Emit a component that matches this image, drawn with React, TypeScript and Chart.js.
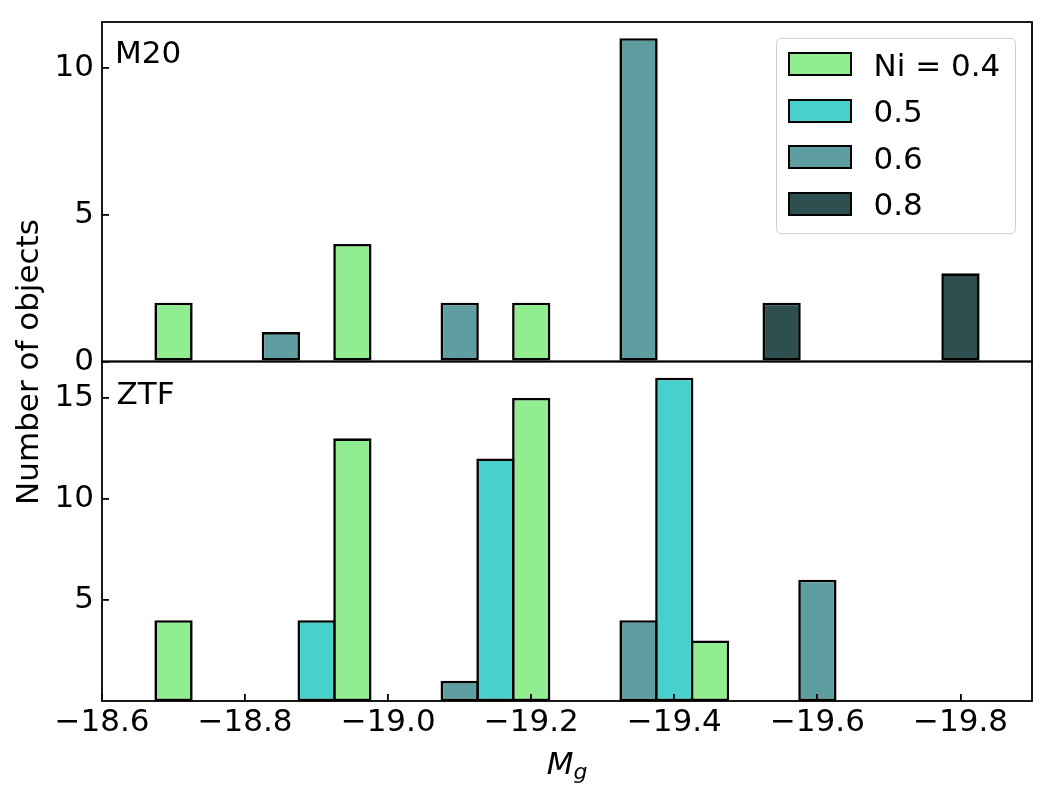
import React, { useEffect, useRef } from 'react';
import { Chart, registerables } from 'chart.js';

Chart.register(...registerables);

// ---------- data ----------
const BIN_CENTERS = [
  -18.70, -18.75, -18.80, -18.85, -18.90, -18.95, -19.00, -19.05, -19.10, -19.15, -19.20, -19.25,
  -19.30, -19.35, -19.40, -19.45, -19.50, -19.55, -19.60, -19.65, -19.70, -19.75, -19.80,
];

const SERIES_LABELS = ['Ni = 0.4', '0.5', '0.6', '0.8'];

// M20 panel counts per bin
const M20_NI04 = [2, 0, 0, 0, 0, 4, 0, 0, 0, 0, 2, 0, 0, 0, 0, 0, 0, 0, 0, 0, 0, 0, 0];
const M20_NI05 = [0, 0, 0, 0, 0, 0, 0, 0, 0, 0, 0, 0, 0, 0, 0, 0, 0, 0, 0, 0, 0, 0, 0];
const M20_NI06 = [0, 0, 0, 1, 0, 0, 0, 0, 2, 0, 0, 0, 0, 11, 0, 0, 0, 0, 0, 0, 0, 0, 0];
const M20_NI08 = [0, 0, 0, 0, 0, 0, 0, 0, 0, 0, 0, 0, 0, 0, 0, 0, 0, 2, 0, 0, 0, 0, 3];

// ZTF panel counts per bin
const ZTF_NI04 = [4, 0, 0, 0, 0, 13, 0, 0, 0, 0, 15, 0, 0, 0, 0, 3, 0, 0, 0, 0, 0, 0, 0];
const ZTF_NI05 = [0, 0, 0, 0, 4, 0, 0, 0, 0, 12, 0, 0, 0, 0, 16, 0, 0, 0, 0, 0, 0, 0, 0];
const ZTF_NI06 = [0, 0, 0, 0, 0, 0, 0, 0, 1, 0, 0, 0, 0, 4, 0, 0, 0, 0, 6, 0, 0, 0, 0];
const ZTF_NI08 = [0, 0, 0, 0, 0, 0, 0, 0, 0, 0, 0, 0, 0, 0, 0, 0, 0, 0, 0, 0, 0, 0, 0];

const PANEL_LABELS = ['M20', 'ZTF'];

const X_TICKS = [-18.6, -18.8, -19.0, -19.2, -19.4, -19.6, -19.8];
const X_TICK_LABELS = ['\u221218.6', '\u221218.8', '\u221219.0', '\u221219.2', '\u221219.4', '\u221219.6', '\u221219.8'];
const X_MIN = -19.9;
const X_MAX = -18.6;

const Y_TOP_TICKS = [0, 5, 10];
const Y_TOP_MAX = 11.55;
const Y_BOT_TICKS = [5, 10, 15];
const Y_BOT_MAX = 16.8;

// ---------- styles ----------
const SERIES_COLORS = ['#90EE90', '#48D1CC', '#5F9EA0', '#2F4F4F'];
const FONT = 'DejaVu Sans';
const FS = 31;
const LINE_W = 1.8;

export default function App() {
  const canvasRef = useRef<HTMLCanvasElement>(null);

  useEffect(() => {
    document.body.style.margin = '0';
    const canvas = canvasRef.current;
    if (!canvas) return;

    const panels = [
      { axis: 'yTop', counts: [M20_NI04, M20_NI05, M20_NI06, M20_NI08] },
      { axis: 'yBot', counts: [ZTF_NI04, ZTF_NI05, ZTF_NI06, ZTF_NI08] },
    ];

    const datasets: any[] = [];
    panels.forEach((p, pi) => {
      p.counts.forEach((counts, si) => {
        const pts = BIN_CENTERS.map((x, i) => ({ x, y: counts[i] })).filter((d) => d.y > 0);
        datasets.push({
          label: PANEL_LABELS[pi] + ' ' + SERIES_LABELS[si],
          data: pts,
          yAxisID: p.axis,
          backgroundColor: SERIES_COLORS[si],
          borderColor: '#000',
          borderWidth: 2.6,
          borderSkipped: false,
          grouped: false,
          barPercentage: 1.07,
          categoryPercentage: 1,
        });
      });
    });

    const yAxis = (ticks: number[], max: number) => ({
      type: 'linear' as const,
      position: 'left' as const,
      stack: 'panels',
      stackWeight: 1,
      min: 0,
      max,
      offset: false,
      grid: {
        display: true,
        drawOnChartArea: false,
        drawTicks: true,
        tickLength: -7,
        color: '#000',
        lineWidth: LINE_W,
      },
      border: { display: false },
      ticks: {
        autoSkip: false,
        padding: 15,
        color: '#000',
        font: { family: FONT, size: FS },
      },
      afterBuildTicks: (s: any) => {
        s.ticks = ticks.map((v) => ({ value: v }));
      },
      afterFit: (s: any) => {
        s.width = 102;
        s.paddingTop = 0;
        s.paddingBottom = 0;
      },
    });

    const framePlugin = {
      id: 'panelFrame',
      afterDraw(chart: any) {
        const { ctx, chartArea } = chart;
        ctx.save();
        ctx.strokeStyle = '#000';
        ctx.lineWidth = LINE_W;
        ['yTop', 'yBot'].forEach((id) => {
          const s = chart.scales[id];
          ctx.strokeRect(chartArea.left, s.top, chartArea.right - chartArea.left, s.bottom - s.top);
        });
        ctx.restore();
      },
    };

    const chart = new Chart(canvas, {
      type: 'bar',
      data: { datasets },
      options: {
        responsive: false,
        animation: false,
        devicePixelRatio: 1,
        layout: { padding: { top: 22, right: 31, bottom: 0, left: 0 } },
        plugins: { legend: { display: false }, tooltip: { enabled: false } },
        scales: {
          x: {
            type: 'linear',
            position: 'bottom',
            min: X_MIN,
            max: X_MAX,
            reverse: true,
            offset: false,
            grid: {
              display: true,
              drawOnChartArea: false,
              drawTicks: true,
              tickLength: -7,
              color: '#000',
              lineWidth: LINE_W,
              offset: false,
              z: 1,
            },
            border: { display: false },
            ticks: {
              autoSkip: false,
              maxRotation: 0,
              padding: 10,
              color: '#000',
              font: { family: FONT, size: FS },
              callback: (v: any) => X_TICK_LABELS[X_TICKS.indexOf(Number(v))] ?? '',
            },
            afterBuildTicks: (s: any) => {
              s.ticks = X_TICKS.map((v) => ({ value: v }));
            },
            afterFit: (s: any) => {
              s.height = 98;
              s.paddingLeft = 0;
              s.paddingRight = 0;
            },
          },
          yBot: yAxis(Y_BOT_TICKS, Y_BOT_MAX),
          yTop: yAxis(Y_TOP_TICKS, Y_TOP_MAX),
        } as any,
      },
      plugins: [framePlugin],
    });

    return () => chart.destroy();
  }, []);

  const text: React.CSSProperties = {
    position: 'absolute',
    fontFamily: FONT,
    fontSize: FS,
    lineHeight: '36px',
    color: '#000',
    whiteSpace: 'nowrap',
  };

  return (
    <div style={{ position: 'relative', width: 1063, height: 799, overflow: 'hidden', background: '#fff' }}>
      <canvas ref={canvasRef} width={1063} height={799} style={{ display: 'block' }} />

      {/* panel labels */}
      <div style={{ ...text, left: 115, top: 34 }}>{PANEL_LABELS[0]}</div>
      <div style={{ ...text, left: 116.5, top: 375 }}>{PANEL_LABELS[1]}</div>

      {/* y label */}
      <div
        style={{
          ...text,
          left: 27 - 200,
          top: 361.7 - 18,
          width: 400,
          height: 36,
          textAlign: 'center',
          transform: 'rotate(-90deg)',
        }}
      >
        Number of objects
      </div>

      {/* x label */}
      <div style={{ ...text, left: 567 - 100, top: 744.5, width: 200, textAlign: 'center' }}>
        <span style={{ fontStyle: 'italic' }}>M</span>
        <span style={{ fontStyle: 'italic', fontSize: 22, position: 'relative', top: 5 }}>g</span>
      </div>

      {/* legend */}
      <div
        style={{
          position: 'absolute',
          left: 776,
          top: 38,
          width: 240,
          height: 196,
          boxSizing: 'border-box',
          border: '1.5px solid #d0d0d0',
          borderRadius: 5,
          background: 'rgba(255,255,255,0.8)',
        }}
      >
        {SERIES_LABELS.map((lab, i) => {
          const cy = 25.2 + 46.5 * i;
          return (
            <React.Fragment key={lab}>
              <div
                style={{
                  position: 'absolute',
                  left: 10.5,
                  top: cy - 12,
                  width: 64,
                  height: 24,
                  boxSizing: 'border-box',
                  border: '2.5px solid #000',
                  background: SERIES_COLORS[i],
                }}
              />
              <div style={{ ...text, left: 96.5, top: cy - 17.45 }}>{lab}</div>
            </React.Fragment>
          );
        })}
      </div>
    </div>
  );
}
